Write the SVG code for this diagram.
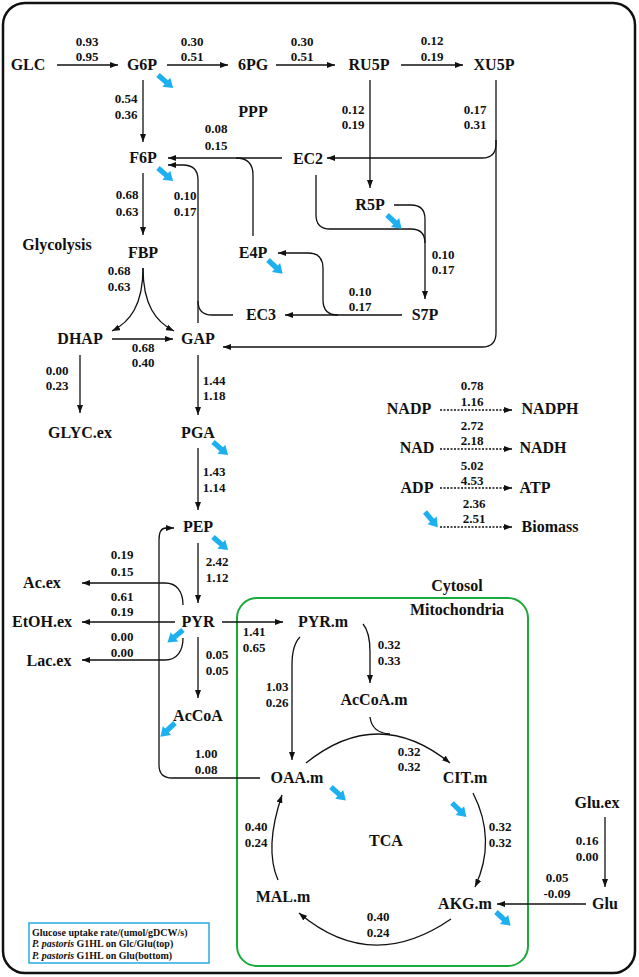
<svg xmlns="http://www.w3.org/2000/svg" xmlns:xlink="http://www.w3.org/1999/xlink" width="639" height="977" viewBox="0 0 639 977">
<style>
text{font-family:"Liberation Serif","Times New Roman",serif;font-weight:bold;fill:#111;text-anchor:middle}
.n{font-size:16px}
.v{font-size:13px}
.lg{font-size:10px;text-anchor:start}
.c path{fill:none;stroke:#111;stroke-width:1.3}
.c .a{marker-end:url(#ah)}
.c .d{stroke-dasharray:2,1.5}
.b{fill:#1cb0f0}
</style>
<defs>
<marker id="ah" markerUnits="userSpaceOnUse" markerWidth="8" markerHeight="6" refX="8" refY="3" orient="auto"><path d="M0,0 L8,3 L0,6 z" fill="#111"/></marker>
<path id="ba" d="M0,-2.6 L11,-2.6 L11,-6 L20,0 L11,6 L11,2.6 L0,2.6 Z"/>
</defs>
<rect x="3" y="3" width="632" height="970" rx="22" fill="#fff" stroke="#111" stroke-width="2.5"/>
<rect x="237" y="598" width="291" height="368" rx="20" fill="none" stroke="#1aaa3a" stroke-width="2"/>
<g class="c" id="connectors">
<path class="a" d="M57,65 H118"/>
<path class="a" d="M167,65 H228"/>
<path class="a" d="M276,65 H335"/>
<path class="a" d="M401,65 H463"/>
<path class="a" d="M143,80 V142"/>
<path class="a" d="M282,158 H168"/>
<path d="M253,236 V175 Q253,158 236,158"/>
<path class="a" d="M198,323 V180 Q198,165 183,165 H168"/>
<path d="M233,315 H212 Q198,315 198,301"/>
<path class="a" d="M496,80 V144 Q496,158 482,158 H327"/>
<path class="a" d="M496,140 V333 Q496,347 482,347 H223"/>
<path class="a" d="M370,80 V188"/>
<path class="a" d="M394,205 H411 Q425,205 425,219 V299"/>
<path d="M316,175 V215 Q316,229 330,229 H411 Q425,229 425,243"/>
<path class="a" d="M402,315 H285"/>
<path class="a" d="M338,315 Q323,315 323,300 V268 Q323,253 308,253 H278"/>
<path class="a" d="M143,173 V235"/>
<path class="a" d="M143,268 C143,305 130,322 112,331"/>
<path class="a" d="M143,268 C143,305 156,322 174,331"/>
<path class="a" d="M112,339 H173"/>
<path class="a" d="M80,355 V413"/>
<path class="a" d="M198,355 V415"/>
<path class="a" d="M198,448 V510"/>
<path class="a" d="M198,543 V603"/>
<path class="a" d="M183,605 C183,592 177,583 165,583 H82"/>
<path class="a" d="M175,622 H82"/>
<path class="a" d="M183,638 C183,651 177,660 165,660 H82"/>
<path class="a" d="M198,637 V698"/>
<path class="a" d="M260,778 H172 Q159,778 159,765 V540 Q159,528 166,528 H174"/>
<path class="a" d="M222,622 H283"/>
<path class="a" d="M363,624 Q370,632 370,652 V683"/>
<path class="a" d="M300,637 Q292,645 292,665 V760"/>
<path class="a" d="M306,763 Q378,705 450,763"/>
<path d="M370,717 Q372,733 390,734"/>
<path class="a" d="M473,793 Q497,840 475,887"/>
<path class="a" d="M451,919 Q371,974 299,913"/>
<path class="a" d="M278,880 Q264,848 282,795"/>
<path class="a" d="M605,817 V887"/>
<path class="a" d="M586,904 H497"/>
<path class="a d" d="M440,410 H512"/>
<path class="a d" d="M440,449 H512"/>
<path class="a d" d="M440,488 H512"/>
<path class="a d" d="M440,527 H512"/>
</g>
<g id="blue-arrows" class="b">
<use xlink:href="#ba" transform="translate(158,75) rotate(41)"/>
<use xlink:href="#ba" transform="translate(158,168) rotate(41)"/>
<use xlink:href="#ba" transform="translate(387,215) rotate(43)"/>
<use xlink:href="#ba" transform="translate(268,260) rotate(43)"/>
<use xlink:href="#ba" transform="translate(213,442) rotate(41)"/>
<use xlink:href="#ba" transform="translate(213,537) rotate(41)"/>
<use xlink:href="#ba" transform="translate(183,630) rotate(141)"/>
<use xlink:href="#ba" transform="translate(175,723) rotate(137)"/>
<use xlink:href="#ba" transform="translate(331,787) rotate(42)"/>
<use xlink:href="#ba" transform="translate(452,803) rotate(44)"/>
<use xlink:href="#ba" transform="translate(496,912) rotate(43)"/>
<use xlink:href="#ba" transform="translate(425,512) rotate(50)"/>
</g>
<g id="GLC"><text class="n" x="28" y="70">GLC</text></g>
<g id="G6P"><text class="n" x="142" y="70">G6P</text></g>
<g id="6PG"><text class="n" x="253" y="70">6PG</text></g>
<g id="RU5P"><text class="n" x="369" y="70">RU5P</text></g>
<g id="XU5P"><text class="n" x="494" y="70">XU5P</text></g>
<g id="F6P"><text class="n" x="143" y="163">F6P</text></g>
<g id="EC2"><text class="n" x="308" y="164">EC2</text></g>
<g id="R5P"><text class="n" x="370" y="210">R5P</text></g>
<g id="E4P"><text class="n" x="253" y="258">E4P</text></g>
<g id="FBP"><text class="n" x="143" y="258">FBP</text></g>
<g id="EC3"><text class="n" x="261" y="320">EC3</text></g>
<g id="S7P"><text class="n" x="425" y="320">S7P</text></g>
<g id="DHAP"><text class="n" x="80" y="344">DHAP</text></g>
<g id="GAP"><text class="n" x="198" y="344">GAP</text></g>
<g id="GLYC.ex"><text class="n" x="80" y="438">GLYC.ex</text></g>
<g id="PGA"><text class="n" x="198" y="438">PGA</text></g>
<g id="PEP"><text class="n" x="198" y="532">PEP</text></g>
<g id="PYR"><text class="n" x="198" y="627">PYR</text></g>
<g id="Ac.ex"><text class="n" x="42" y="588">Ac.ex</text></g>
<g id="EtOH.ex"><text class="n" x="42" y="627">EtOH.ex</text></g>
<g id="Lac.ex"><text class="n" x="49" y="666">Lac.ex</text></g>
<g id="AcCoA"><text class="n" x="198" y="721">AcCoA</text></g>
<g id="PYR.m"><text class="n" x="323" y="627">PYR.m</text></g>
<g id="AcCoA.m"><text class="n" x="374" y="705">AcCoA.m</text></g>
<g id="OAA.m"><text class="n" x="297" y="783">OAA.m</text></g>
<g id="CIT.m"><text class="n" x="465" y="783">CIT.m</text></g>
<g id="MAL.m"><text class="n" x="283" y="902">MAL.m</text></g>
<g id="AKG.m"><text class="n" x="465" y="909">AKG.m</text></g>
<g id="Glu.ex"><text class="n" x="597" y="808">Glu.ex</text></g>
<g id="Glu"><text class="n" x="605" y="909">Glu</text></g>
<g id="NADP"><text class="n" x="409" y="414">NADP</text></g>
<g id="NADPH"><text class="n" x="550" y="414">NADPH</text></g>
<g id="NAD"><text class="n" x="417" y="453">NAD</text></g>
<g id="NADH"><text class="n" x="543" y="453">NADH</text></g>
<g id="ADP"><text class="n" x="417" y="493">ADP</text></g>
<g id="ATP"><text class="n" x="535" y="493">ATP</text></g>
<g id="Biomass"><text class="n" x="550" y="532">Biomass</text></g>
<g id="section-labels">
<text class="n" x="253" y="117">PPP</text>
<text class="n" x="57" y="250">Glycolysis</text>
<text class="n" x="386" y="846">TCA</text>
<text class="n" x="457" y="591">Cytosol</text>
<text class="n" x="457" y="615">Mitochondria</text>
</g>
<g id="flux-labels" class="v">
<text class="v" x="87" y="46">0.93</text><text class="v" x="87" y="61">0.95</text>
<text class="v" x="192" y="46">0.30</text><text class="v" x="192" y="61">0.51</text>
<text class="v" x="302" y="46">0.30</text><text class="v" x="302" y="61">0.51</text>
<text class="v" x="432" y="45">0.12</text><text class="v" x="432" y="61">0.19</text>
<text class="v" x="126" y="103">0.54</text><text class="v" x="126" y="119">0.36</text>
<text class="v" x="353" y="114">0.12</text><text class="v" x="353" y="129">0.19</text>
<text class="v" x="475" y="114">0.17</text><text class="v" x="475" y="129">0.31</text>
<text class="v" x="216" y="133">0.08</text><text class="v" x="216" y="150">0.15</text>
<text class="v" x="185" y="200">0.10</text><text class="v" x="185" y="216">0.17</text>
<text class="v" x="127" y="199">0.68</text><text class="v" x="127" y="216">0.63</text>
<text class="v" x="119" y="275">0.68</text><text class="v" x="119" y="291">0.63</text>
<text class="v" x="443" y="259">0.10</text><text class="v" x="443" y="274">0.17</text>
<text class="v" x="360" y="296">0.10</text><text class="v" x="360" y="311">0.17</text>
<text class="v" x="143" y="352">0.68</text><text class="v" x="143" y="367">0.40</text>
<text class="v" x="57" y="375">0.00</text><text class="v" x="57" y="390">0.23</text>
<text class="v" x="214" y="385">1.44</text><text class="v" x="214" y="400">1.18</text>
<text class="v" x="214" y="476">1.43</text><text class="v" x="214" y="492">1.14</text>
<text class="v" x="217" y="566">2.42</text><text class="v" x="217" y="582">1.12</text>
<text class="v" x="122" y="559">0.19</text><text class="v" x="122" y="576">0.15</text>
<text class="v" x="122" y="601">0.61</text><text class="v" x="122" y="616">0.19</text>
<text class="v" x="122" y="641">0.00</text><text class="v" x="122" y="657">0.00</text>
<text class="v" x="217" y="659">0.05</text><text class="v" x="217" y="675">0.05</text>
<text class="v" x="254" y="636">1.41</text><text class="v" x="254" y="652">0.65</text>
<text class="v" x="277" y="691">1.03</text><text class="v" x="277" y="707">0.26</text>
<text class="v" x="389" y="649">0.32</text><text class="v" x="389" y="665">0.33</text>
<text class="v" x="206" y="758">1.00</text><text class="v" x="206" y="774">0.08</text>
<text class="v" x="409" y="756">0.32</text><text class="v" x="409" y="771">0.32</text>
<text class="v" x="500" y="831">0.32</text><text class="v" x="500" y="847">0.32</text>
<text class="v" x="256" y="831">0.40</text><text class="v" x="256" y="847">0.24</text>
<text class="v" x="378" y="921">0.40</text><text class="v" x="378" y="937">0.24</text>
<text class="v" x="587" y="845">0.16</text><text class="v" x="587" y="861">0.00</text>
<text class="v" x="557" y="882">0.05</text><text class="v" x="557" y="898">-0.09</text>
<text class="v" x="472" y="390">0.78</text><text class="v" x="472" y="406">1.16</text>
<text class="v" x="472" y="430">2.72</text><text class="v" x="472" y="445">2.18</text>
<text class="v" x="472" y="470">5.02</text><text class="v" x="472" y="485">4.53</text>
<text class="v" x="474" y="508">2.36</text><text class="v" x="474" y="523">2.51</text>
</g>
<g id="legend">
<rect x="29" y="923" width="180" height="40" fill="#fff" stroke="#29abe2" stroke-width="1.5"/>
<text class="lg" x="32" y="935.5">Glucose uptake rate/(umol/gDCW/s)</text>
<text class="lg" x="32" y="947"><tspan font-style="italic">P. pastoris</tspan> G1HL on Glc/Glu(top)</text>
<text class="lg" x="32" y="958.5"><tspan font-style="italic">P. pastoris</tspan> G1HL on Glu(bottom)</text>
</g>
</svg>
